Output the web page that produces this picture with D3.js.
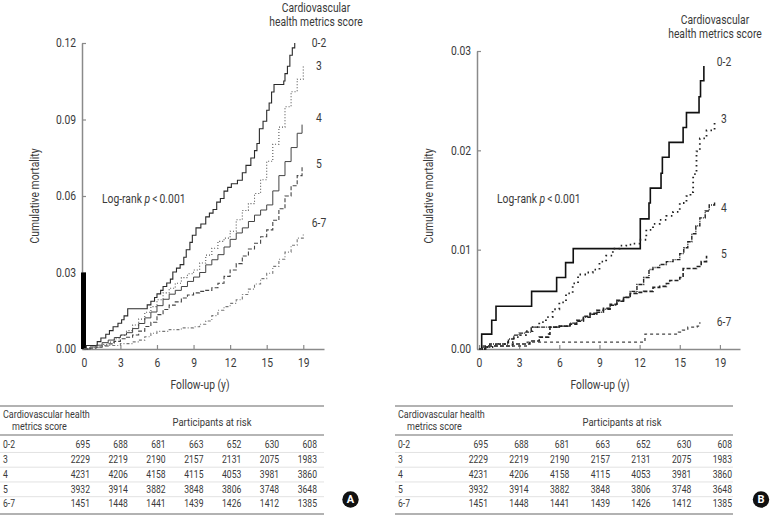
<!DOCTYPE html>
<html><head><meta charset="utf-8">
<script src="https://cdn.jsdelivr.net/npm/d3@7"></script>
<style>
body{margin:0;background:#fff;}
svg text{font-family:Roboto,"Liberation Sans",sans-serif;fill:#3a3a3a;}
</style></head><body>
<svg id="c" width="770" height="516"></svg>
<script>
// ---------- DATA ----------
const groups = ["0-2","3","4","5","6-7"];
const xTickValues = [0,3,6,9,12,15,18];
const xTickLabels = ["0","3","6","9","12","15","19"];
const yTicksA = [0,0.03,0.06,0.09,0.12];
const yTicksB = [0,0.01,0.02,0.03];

// Panel A: [years, cumulative mortality]
const A_02 = [[0,0],[0.2,0.0014],[1.1,0.0029],[1.4,0.0043],[1.8,0.0058],[2.1,0.0072],[2.4,0.0087],[2.8,0.0101],[3.1,0.0115],[3.3,0.013],[3.6,0.0158],[5.2,0.0173],[5.5,0.0187],[5.8,0.0202],[6.0,0.0216],[6.3,0.023],[6.5,0.0245],[6.8,0.0259],[7.1,0.0274],[7.3,0.0302],[7.6,0.0317],[7.9,0.0331],[8.2,0.036],[8.4,0.0389],[8.7,0.0418],[8.9,0.0446],[9.2,0.0475],[9.6,0.049],[10.0,0.0518],[10.3,0.0533],[10.6,0.0547],[10.9,0.0576],[11.2,0.059],[11.5,0.0619],[11.8,0.0634],[12.1,0.0648],[12.6,0.0662],[13.0,0.0691],[13.3,0.072],[13.7,0.0749],[14.0,0.0778],[14.2,0.0806],[14.4,0.0864],[14.7,0.0893],[15.0,0.0936],[15.2,0.0965],[15.4,0.1008],[15.6,0.1037],[16.4,0.1051],[16.5,0.108],[16.7,0.1109],[16.9,0.1152],[17.1,0.1181],[17.3,0.12]];
const A_3 = [[0,0],[0.5,0.0005],[1.0,0.0009],[1.5,0.0018],[2.0,0.0027],[2.5,0.004],[3.0,0.0054],[3.5,0.0072],[4.0,0.0094],[4.5,0.0117],[5.0,0.0144],[5.5,0.0166],[6.0,0.0193],[6.5,0.022],[7.0,0.0238],[7.5,0.0258],[8.0,0.028],[8.5,0.0295],[9.0,0.031],[9.5,0.0337],[10.0,0.0368],[10.5,0.0395],[11.0,0.0422],[11.5,0.0435],[12.0,0.0462],[12.5,0.0507],[13.0,0.0543],[13.5,0.057],[14.0,0.061],[14.5,0.0664],[15.0,0.0736],[15.5,0.0803],[16.0,0.087],[16.5,0.095],[17.0,0.1009],[17.5,0.1058],[18.0,0.1108]];
const A_4 = [[0,0],[0.5,0.0008],[1.0,0.0015],[1.5,0.0025],[2.0,0.0035],[2.5,0.0045],[3.0,0.0055],[3.5,0.0064],[4.0,0.008],[4.5,0.01],[5.0,0.0122],[5.5,0.0145],[6.0,0.017],[6.5,0.0195],[7.0,0.0215],[7.5,0.023],[8.0,0.0245],[8.5,0.0265],[9.0,0.0282],[9.5,0.03],[10.0,0.033],[10.5,0.035],[11.0,0.037],[11.5,0.04],[12.0,0.043],[12.5,0.0455],[13.0,0.0475],[13.5,0.05],[14.0,0.0525],[14.5,0.0545],[15.0,0.0565],[15.5,0.062],[16.0,0.068],[16.5,0.0735],[17.0,0.079],[17.5,0.0846],[17.9,0.088]];
const A_5 = [[0,0],[0.5,0.0003],[1.0,0.0007],[1.5,0.0012],[2.0,0.002],[2.5,0.003],[3.0,0.004],[3.5,0.0046],[4.0,0.0055],[4.5,0.007],[5.0,0.0088],[5.5,0.0105],[6.0,0.0135],[6.5,0.0155],[7.0,0.0172],[7.5,0.0185],[8.0,0.02],[8.5,0.0212],[9.0,0.022],[9.5,0.0226],[10.0,0.023],[10.5,0.024],[11.0,0.0258],[11.5,0.0285],[12.0,0.031],[12.5,0.0335],[13.0,0.0365],[13.5,0.0392],[14.0,0.0415],[14.5,0.044],[15.0,0.0467],[15.5,0.0505],[16.0,0.055],[16.5,0.06],[17.0,0.064],[17.5,0.068],[17.9,0.072]];
const A_67 = [[0,0],[0.7,0.0007],[1.5,0.0014],[3.0,0.0021],[4.0,0.0028],[4.5,0.0035],[5.0,0.0048],[5.5,0.0062],[6.0,0.0069],[7.0,0.0076],[8.0,0.0083],[9.0,0.0087],[9.5,0.0097],[10.0,0.011],[10.5,0.0131],[11.0,0.0152],[11.5,0.0166],[12.0,0.0179],[12.5,0.0193],[13.0,0.0214],[13.5,0.0235],[14.0,0.0255],[14.5,0.0276],[15.0,0.0297],[15.5,0.0324],[16.0,0.0352],[16.5,0.038],[17.0,0.0407],[17.5,0.0435],[18.0,0.0455]];

// Panel B
const B_02 = [[0,0],[0.2,0.0015],[0.95,0.0029],[1.27,0.0043],[3.93,0.0058],[5.8,0.0072],[6.47,0.0087],[7.04,0.0101],[12.05,0.0131],[12.7,0.0147],[12.8,0.0162],[13.6,0.0177],[13.7,0.0193],[14.2,0.0208],[15.25,0.0223],[15.5,0.0238],[16.44,0.0254],[16.55,0.027],[16.8,0.0285]];
const B_3 = [[0,0],[0.5,0.0002],[1.0,0.0004],[1.5,0.0005],[2.0,0.0007],[2.6,0.0012],[3.0,0.0014],[3.5,0.0018],[4.0,0.0022],[4.5,0.0027],[5.0,0.0032],[5.5,0.004],[6.0,0.0047],[6.5,0.0056],[7.0,0.0066],[7.4,0.0075],[8.0,0.0077],[8.5,0.008],[9.0,0.0088],[9.5,0.0094],[10.0,0.0101],[10.5,0.0104],[11.0,0.0105],[11.5,0.0106],[12.0,0.011],[12.5,0.012],[13.0,0.0126],[13.5,0.013],[14.0,0.0134],[14.5,0.0138],[15.0,0.0147],[15.5,0.0154],[15.8,0.0158],[16.0,0.0176],[16.25,0.0199],[16.5,0.0212],[17.0,0.022],[17.6,0.0231]];
const B_4 = [[0,0],[0.3,0.0002],[0.8,0.0005],[2.2,0.001],[2.6,0.0014],[3.0,0.0016],[3.5,0.0017],[3.9,0.0022],[6.0,0.0023],[6.8,0.0026],[7.3,0.0029],[7.8,0.0032],[8.3,0.0035],[8.8,0.0037],[9.3,0.004],[9.8,0.0044],[10.3,0.0048],[10.8,0.0052],[11.3,0.0058],[11.8,0.0065],[12.3,0.0072],[12.7,0.008],[13.0,0.0082],[13.5,0.0085],[14.0,0.0088],[14.5,0.009],[15.0,0.0096],[15.3,0.0102],[15.6,0.0108],[15.9,0.0116],[16.2,0.0124],[16.5,0.0132],[16.9,0.0139],[17.2,0.0145],[17.6,0.0148]];
const B_5 = [[0,0],[0.5,0.0003],[2.5,0.0005],[3.8,0.0008],[4.5,0.0012],[5.2,0.0015],[5.3,0.0022],[6.0,0.0023],[6.8,0.0025],[7.3,0.0028],[7.8,0.0033],[8.3,0.0036],[8.8,0.0039],[9.3,0.0041],[9.8,0.0045],[10.3,0.0049],[10.8,0.0052],[11.3,0.0056],[11.8,0.0057],[12.3,0.0058],[13.0,0.0062],[13.5,0.0063],[14.0,0.0066],[14.25,0.0069],[15.0,0.0072],[15.25,0.0081],[16.25,0.0083],[16.6,0.0088],[17.0,0.0094]];
const B_67 = [[0,0],[0.3,0.0003],[3.6,0.0007],[12.4,0.0015],[14.9,0.0017],[15.2,0.0019],[15.6,0.0022],[16.3,0.0023],[16.5,0.0027]];

// Participants at risk table
const riskHeader = ["Cardiovascular health","metrics score"];
const risk_02 = [695,688,681,663,652,630,608];
const risk_3  = [2229,2219,2190,2157,2131,2075,1983];
const risk_4  = [4231,4206,4158,4115,4053,3981,3860];
const risk_5  = [3932,3914,3882,3848,3806,3748,3648];
const risk_67 = [1451,1448,1441,1439,1426,1412,1385];
const riskRows = [risk_02,risk_3,risk_4,risk_5,risk_67];

// ---------- DRAW ----------
const svg = d3.select("#c");
const FS = 12, TFS = 10;

function panel(cfg){
  const g = svg.append("g");
  const x = d3.scaleLinear().domain([-0.15, cfg.xMax]).range([cfg.x0, cfg.x1]);
  const y = d3.scaleLinear().domain([0, cfg.yMax]).range([349, cfg.yTop]);

  const ya = d3.axisLeft(y).tickValues(cfg.yTicks).tickFormat(d3.format(".2f"))
    .tickSizeInner(-4).tickSizeOuter(0).tickPadding(6);
  const yg = g.append("g").attr("transform",`translate(${cfg.x0},0)`).call(ya);
  const xa = d3.axisBottom(x).tickValues(xTickValues).tickFormat((d,i)=>xTickLabels[i])
    .tickSizeInner(-4).tickSizeOuter(0).tickPadding(9);
  const xg = g.append("g").attr("transform",`translate(0,349)`).call(xa);
  [yg,xg].forEach(a=>{
    a.attr("font-family",null).attr("font-size",null);
    a.select(".domain").attr("stroke","#8a8a8a").attr("stroke-width",1.5);
    a.selectAll(".tick line").attr("stroke","#8a8a8a").attr("stroke-width",1.2);
    a.selectAll("text").attr("font-size",FS).style("fill","#3a3a3a");
  });

  if (cfg.bar) {
    g.append("rect").attr("x", x(-0.15)-1).attr("width", 5)
     .attr("y", y(cfg.bar)).attr("height", y(0)-y(cfg.bar)).attr("fill","#000");
  }

  const line = d3.line().x(d=>x(d[0])).y(d=>y(d[1])).curve(d3.curveStepAfter);
  cfg.series.forEach((s,i)=>{
    g.append("path").attr("d", line(s.data)).attr("fill","none")
      .attr("stroke", s.color).attr("stroke-width", s.w)
      .attr("stroke-dasharray", s.dash || null);
    g.append("text").attr("x", cfg.labelX).attr("y", y(cfg.labelV[i]))
      .attr("dy","0.35em").attr("text-anchor","middle").attr("font-size",FS).text(groups[i]);
  });

  g.append("text").attr("x", cfg.headX).attr("y", cfg.headY).attr("text-anchor","middle")
    .attr("font-size",FS).text("Cardiovascular");
  g.append("text").attr("x", cfg.headX).attr("y", cfg.headY+14.5).attr("text-anchor","middle")
    .attr("font-size",FS).text("health metrics score");

  g.append("text").attr("transform",`translate(${cfg.ytX},${cfg.ytY}) rotate(-90)`)
    .attr("text-anchor","middle").attr("font-size",FS).text("Cumulative mortality");
  g.append("text").attr("x", cfg.xtX).attr("y", 389).attr("text-anchor","middle")
    .attr("font-size",FS).text("Follow-up (y)");

  const lr = g.append("text").attr("x", cfg.lrX).attr("y", 203).attr("font-size",FS);
  lr.append("tspan").text("Log-rank ");
  lr.append("tspan").attr("font-style","italic").text("p");
  lr.append("tspan").text("\u2009<\u20090.001");

  // table
  const tx0 = cfg.tx0, tx1 = cfg.tx1;
  const t = svg.append("g");
  t.append("line").attr("x1",tx0).attr("x2",tx1).attr("y1",406).attr("y2",406).attr("stroke","#666").attr("stroke-width",1.2);
  t.append("line").attr("x1",tx0).attr("x2",tx1).attr("y1",435).attr("y2",435).attr("stroke","#b5b5b5").attr("stroke-width",2);
  t.append("line").attr("x1",tx0).attr("x2",tx1).attr("y1",514).attr("y2",514).attr("stroke","#666").attr("stroke-width",1.2);
  t.append("text").attr("x",tx0+cfg.tPad).attr("y",418).attr("font-size",TFS+0.5).text(riskHeader[0]);
  t.append("text").attr("x",tx0+cfg.tPad+9).attr("y",430).attr("font-size",TFS+0.5).text(riskHeader[1]);
  t.append("text").attr("x",cfg.parX).attr("y",426).attr("text-anchor","middle").attr("font-size",TFS+1).text("Participants at risk");
  const cx = d3.scalePoint().domain(d3.range(7)).range([cfg.c0, cfg.c1]);
  const ry = d3.scalePoint().domain(d3.range(5)).range([445, 504]);
  riskRows.forEach((row,ri)=>{
    if (ri>0) t.append("line").attr("x1",tx0).attr("x2",tx1)
      .attr("y1",ry(ri)-7.3).attr("y2",ry(ri)-7.3).attr("stroke","#e2e2e2").attr("stroke-width",1);
    t.append("text").attr("x",tx0+cfg.tPad).attr("y",ry(ri)).attr("dy","0.35em").attr("font-size",TFS).text(groups[ri]);
    row.forEach((v,ci)=>{
      t.append("text").attr("x",cx(ci)).attr("y",ry(ri)).attr("dy","0.35em")
        .attr("text-anchor","end").attr("font-size",TFS).text(v);
    });
  });
  const badge = svg.append("g").attr("transform",`translate(${cfg.badgeX},499.5)`);
  badge.append("circle").attr("r",8.2).attr("fill","#111");
  badge.append("text").attr("class","badge").attr("text-anchor","middle").attr("dy","0.36em").attr("font-size",11)
    .attr("font-weight","bold").style("fill","#fff").text(cfg.badge);
}

panel({
  x0:82, x1:324, xMax:19.7, yMax:0.12, yTop:43, yTicks:yTicksA, bar:0.03,
  series:[
    {data:A_02, color:"#2a2a2a", w:1.1},
    {data:A_3, color:"#555", w:1.1, dash:"1,2"},
    {data:A_4, color:"#444", w:1},
    {data:A_5, color:"#444", w:1.1, dash:"4,2"},
    {data:A_67, color:"#777", w:1.1, dash:"3,2,1,2"}
  ],
  labelX:319, labelV:[0.12,0.111,0.0905,0.0725,0.0495],
  headX:316, headY:12, ytX:39, ytY:196, xtX:200, lrX:102,
  tx0:0, tx1:324, tPad:3, parX:212, c0:90, c1:317, badgeX:350.5, badge:"A"
});

panel({
  x0:477, x1:740, xMax:19.5, yMax:0.03, yTop:51, yTicks:yTicksB,
  series:[
    {data:B_02, color:"#111", w:1.6},
    {data:B_3, color:"#222", w:1.8, dash:"1.5,3.5"},
    {data:B_4, color:"#222", w:1.4, dash:"4,1,1,1"},
    {data:B_5, color:"#222", w:1.6, dash:"4,2"},
    {data:B_67, color:"#444", w:1.3, dash:"3,3"}
  ],
  labelX:724, labelV:[0.0289,0.0232,0.0142,0.0096,0.0027],
  headX:715, headY:24, ytX:433, ytY:196, xtX:600, lrX:497,
  tx0:395, tx1:733, tPad:3, parX:622, c0:488, c1:732, badgeX:761, badge:"B"
});

// condensed look: squeeze each text horizontally about its anchor point
const SQ = 0.86;
svg.selectAll("text").filter(function(){ return !this.classList.contains("badge"); })
  .each(function(){
    const el = d3.select(this);
    const x = +el.attr("x") || 0, y = +el.attr("y") || 0;
    const T = el.attr("transform") || "";
    el.attr("transform", `${T} translate(${x},${y}) scale(${SQ},1) translate(${-x},${-y})`);
  });
</script>
</body></html>
